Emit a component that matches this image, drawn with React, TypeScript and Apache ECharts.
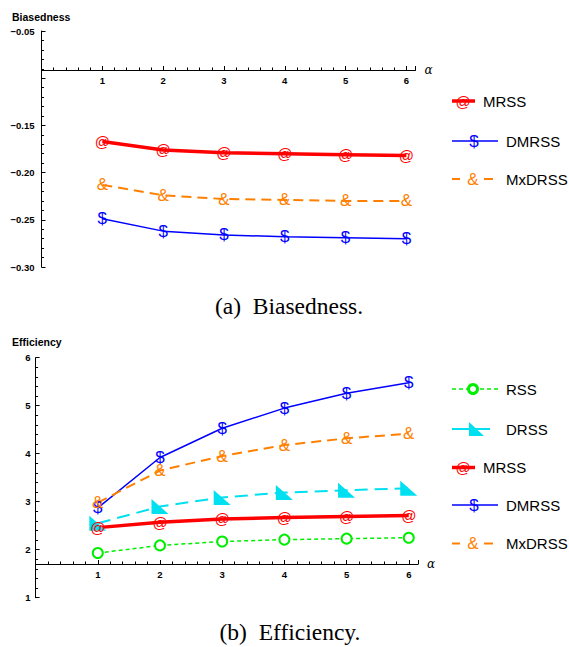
import React, { useEffect, useRef } from "react";
import * as echarts from "echarts";

const alphas = [1, 2, 3, 4, 5, 6];

const biasMRSS = [-0.167, -0.176, -0.179, -0.18, -0.181, -0.182];
const biasDMRSS = [-0.249, -0.262, -0.266, -0.268, -0.269, -0.27];
const biasMxDRSS = [-0.213, -0.224, -0.228, -0.229, -0.23, -0.23];

const effRSS = [1.93, 2.09, 2.17, 2.21, 2.23, 2.25];
const effDRSS = [2.55, 2.9, 3.09, 3.19, 3.24, 3.28];
const effMRSS = [2.46, 2.57, 2.64, 2.67, 2.69, 2.71];
const effDMRSS = [2.87, 3.92, 4.53, 4.95, 5.26, 5.48];
const effMxDRSS = [2.98, 3.65, 3.95, 4.18, 4.32, 4.42];

const biasHiddenTicks = [-0.1];

const topLegend = ["MRSS", "DMRSS", "MxDRSS"];
const bottomLegend = ["RSS", "DRSS", "MRSS", "DMRSS", "MxDRSS"];

const RED = "#ff0000";
const BLUE = "#0000ff";
const ORANGE = "#ff8000";
const GREEN = "#00ee00";
const CYAN = "#00e0f0";
const SANS = "Liberation Sans";

const pair = (ys: number[]) => alphas.map((a, i) => [a, ys[i]]);

function glyphLine(name: string, ys: number[], idx: number, color: string, width: number, dash: any, glyph: string, fontSize: number) {
  return {
    type: "line",
    name,
    xAxisIndex: idx,
    yAxisIndex: idx,
    data: pair(ys),
    symbol: "circle",
    symbolSize: 1,
    itemStyle: { color: "rgba(0,0,0,0)" },
    lineStyle: { color, width, type: dash },
    label: {
      show: true,
      position: "inside",
      formatter: glyph,
      color,
      fontSize,
      fontFamily: SANS,
    },
    emphasis: { disabled: true },
  };
}

function axisX(idx: number, offset: number) {
  return {
    type: "value",
    gridIndex: idx,
    min: 0,
    max: 6.15,
    interval: 1,
    position: "bottom",
    offset,
    name: "α",
    nameLocation: "end",
    nameGap: 9,
    nameTextStyle: { fontStyle: "italic", fontSize: 12, fontFamily: "DejaVu Serif", color: "#000" },
    axisLine: { show: true, onZero: false, lineStyle: { color: "#000", width: 1 } },
    axisTick: { show: true, inside: true, length: 4, lineStyle: { color: "#000" } },
    minorTick: { show: true, splitNumber: 5, length: 2.5, lineStyle: { color: "#000" } },
    splitLine: { show: false },
    axisLabel: {
      margin: 5,
      fontSize: 9.5,
      fontWeight: "bold",
      fontFamily: SANS,
      color: "#000",
      formatter: (v: number) => (Math.abs(v - Math.round(v)) < 1e-9 && v > 0 ? String(Math.round(v)) : ""),
    },
  };
}

function axisY(idx: number, min: number, max: number, interval: number, fmt: (v: number) => string, margin: number) {
  return {
    type: "value",
    gridIndex: idx,
    min,
    max,
    interval,
    position: "left",
    axisLine: { show: true, onZero: false, lineStyle: { color: "#000", width: 1 } },
    axisTick: { show: true, inside: true, length: 4, lineStyle: { color: "#000" } },
    minorTick: { show: true, splitNumber: 5, length: 2.5, lineStyle: { color: "#000" } },
    splitLine: { show: false },
    axisLabel: { margin, fontSize: 9.5, fontWeight: "bold", fontFamily: SANS, color: "#000", formatter: fmt },
  };
}

function txt(text: string, x: number, y: number, size: number, opts: any = {}) {
  return {
    type: "text",
    x,
    y,
    silent: true,
    style: {
      text,
      fontSize: size,
      fontFamily: opts.family || SANS,
      fontWeight: opts.weight || "normal",
      fill: opts.fill || "#000",
      align: opts.align || "left",
      textAlign: opts.align || "left",
      verticalAlign: "middle",
      textVerticalAlign: "middle",
    },
  };
}

function seg(x1: number, x2: number, y: number, color: string, width: number, dash?: number[]) {
  return {
    type: "line",
    silent: true,
    shape: { x1, y1: y, x2, y2: y },
    style: { stroke: color, lineWidth: width, lineDash: dash || null },
  };
}

export default function App() {
  const ref = useRef<HTMLDivElement>(null);
  useEffect(() => {
    if (!ref.current) return;
    const chart = echarts.init(ref.current, null, { renderer: "svg" });

    const topGrid = { left: 41.5, top: 31, width: 374, height: 236 };
    const botGrid = { left: 35.6, top: 357.7, width: 382.5, height: 240 };

    const topFmt = (v: number) => {
      if (biasHiddenTicks.some((h) => Math.abs(h - v) < 1e-9)) return "";
      return (v < 0 ? "\u2212" : "") + Math.abs(v).toFixed(2);
    };
    const botFmt = (v: number) => String(Math.round(v));

    const graphic: any[] = [
      txt("Biasedness", 12, 17, 10.5, { weight: "bold" }),
      txt("Efficiency", 12, 342, 10.5, { weight: "bold" }),
      txt("(a)  Biasedness.", 289, 306, 23.5, { family: "Liberation Serif", align: "center" }),
      txt("(b)  Efficiency.", 290, 632, 23.5, { family: "Liberation Serif", align: "center" }),
      // top legend
      seg(452, 475, 101, RED, 3.5),
      txt("@", 463, 101, 15, { fill: RED, align: "center" }),
      txt(topLegend[0], 483, 101, 15),
      seg(452, 498, 141, BLUE, 1.5),
      txt("$", 474, 141, 17, { fill: BLUE, align: "center" }),
      txt(topLegend[1], 506, 141, 15),
      seg(452, 460, 179, ORANGE, 2),
      seg(484, 493, 179, ORANGE, 2),
      txt("&", 473, 179, 17, { fill: ORANGE, align: "center" }),
      txt(topLegend[2], 506, 179, 15),
      // bottom legend
      seg(452, 498, 389, GREEN, 1.5, [4, 3]),
      {
        type: "circle",
        silent: true,
        shape: { cx: 473, cy: 389, r: 4.5 },
        style: { fill: "#fff", stroke: GREEN, lineWidth: 3 },
      },
      txt(bottomLegend[0], 506, 389, 15),
      seg(452, 490, 429, CYAN, 2),
      {
        type: "polygon",
        silent: true,
        shape: { points: [[469, 422], [469, 436], [484, 436]] },
        style: { fill: CYAN },
      },
      txt(bottomLegend[1], 506, 429, 15),
      seg(452, 475, 467.5, RED, 3.5),
      txt("@", 463, 467.5, 15, { fill: RED, align: "center" }),
      txt(bottomLegend[2], 483, 467.5, 15),
      seg(452, 498, 505, BLUE, 1.5),
      txt("$", 474, 505, 17, { fill: BLUE, align: "center" }),
      txt(bottomLegend[3], 506, 505, 15),
      seg(452, 460, 543.5, ORANGE, 2),
      seg(484, 493, 543.5, ORANGE, 2),
      txt("&", 473, 543.5, 17, { fill: ORANGE, align: "center" }),
      txt(bottomLegend[4], 506, 543.5, 15),
    ];

    chart.setOption({
      animation: false,
      backgroundColor: "#fff",
      grid: [topGrid, botGrid],
      xAxis: [axisX(0, -(236 - 39)), axisX(1, -(597.7 - 564))],
      yAxis: [axisY(0, -0.3, -0.05, 0.05, topFmt, 7), axisY(1, 1, 6, 1, botFmt, 5)],
      series: [
        glyphLine("MRSS", biasMRSS, 0, RED, 3.5, "solid", "@", 15),
        glyphLine("DMRSS", biasDMRSS, 0, BLUE, 1.5, "solid", "$", 17),
        glyphLine("MxDRSS", biasMxDRSS, 0, ORANGE, 2, [10, 6], "&", 17),
        {
          type: "line",
          name: "RSS",
          xAxisIndex: 1,
          yAxisIndex: 1,
          data: pair(effRSS),
          symbol: "emptyCircle",
          symbolSize: 10,
          itemStyle: { color: GREEN, borderColor: GREEN, borderWidth: 3 },
          lineStyle: { color: GREEN, width: 1.5, type: [4, 3] },
          emphasis: { disabled: true },
        },
        {
          type: "line",
          name: "DRSS",
          xAxisIndex: 1,
          yAxisIndex: 1,
          data: pair(effDRSS),
          symbol: "path://M0,0 L0,10 L10,10 Z",
          symbolSize: [17, 15],
          itemStyle: { color: CYAN },
          lineStyle: { color: CYAN, width: 2, type: [13, 7] },
          emphasis: { disabled: true },
        },
        glyphLine("MRSS", effMRSS, 1, RED, 3.5, "solid", "@", 15),
        glyphLine("DMRSS", effDMRSS, 1, BLUE, 1.5, "solid", "$", 17),
        glyphLine("MxDRSS", effMxDRSS, 1, ORANGE, 2, [10, 6], "&", 17),
      ],
      graphic,
    });
    return () => chart.dispose();
  }, []);
  return (
    <div
      ref={ref}
      style={{ position: "absolute", left: 0, top: 0, width: 569, height: 647, background: "#fff" }}
    />
  );
}
